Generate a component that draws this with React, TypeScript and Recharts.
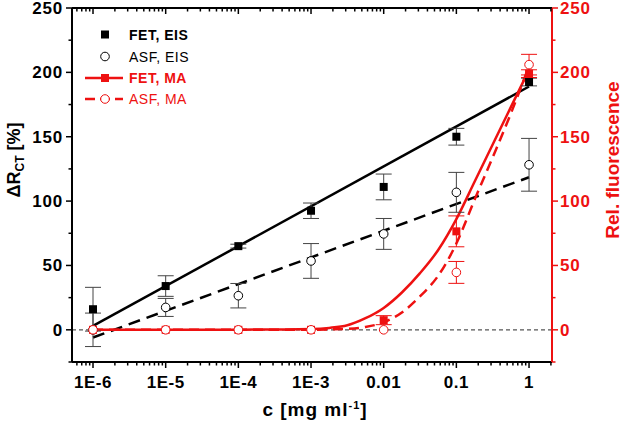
import React from 'react';
import {
  ComposedChart,
  Line,
  Scatter,
  XAxis,
  YAxis,
  ErrorBar,
  ReferenceLine,
  Legend,
} from 'recharts';

const FONT = '"Liberation Sans", Arial, Helvetica, sans-serif';
const RED = '#ee1111';

// ---- data ----
const CONC = [1e-6, 1e-5, 1e-4, 1e-3, 1e-2, 1e-1, 1];
const FET_EIS = [16, 34, 65, 92.5, 111, 150, 192.5];
const FET_EIS_ERR = [17, 8, 1.5, 6, 10, 6.5, 3];
const ASF_EIS = [0, 17.4, 26.5, 53.5, 74.5, 106.8, 128.2];
const ASF_EIS_ERR = [13, 7, 9.5, 13.5, 12, 15.5, 20.5];
const FET_MA = [0, 0, 0, 0, 7.5, 76.5, 199];
const FET_MA_ERR = [0, 0, 0, 0, 3.5, 12, 3];
const ASF_MA = [0, 0, 0, 0, 0, 44.6, 206];
const ASF_MA_ERR = [0, 0, 0, 0, 0, 8.5, 8];

const FIT_C = [1e-6, 1];
const FIT_FET_EIS = [3, 189];
const FIT_ASF_EIS = [-6, 118.5];

const CURVE_C = [1e-6, 1e-5, 1e-4, 1e-3, 0.00178, 0.00316, 0.00562, 0.01, 0.0178, 0.0316, 0.0562, 0.1, 0.178, 0.316, 0.562, 1];
const CURVE_FET_Y = [0, 0, 0.1, 0.7, 1.5, 3.5, 9, 17, 29, 44, 62, 86, 115, 144, 173, 202];
const CURVE_ASF_Y = [0, 0, 0, 0.1, 0.3, 0.7, 2.2, 5.8, 13.5, 26, 42, 67, 101, 134, 168, 205];

const MAJOR_X = [1e-6, 1e-5, 1e-4, 1e-3, 1e-2, 1e-1, 1];
const MAJOR_X_LABELS = ['1E-6', '1E-5', '1E-4', '1E-3', '0.01', '0.1', '1'];
const X_DOMAIN = [5.14e-7, 2.07];
const Y_TICKS = [-25, 0, 25, 50, 75, 100, 125, 150, 175, 200, 225, 250];
const Y_LABELS = ['0', '50', '100', '150', '200', '250'];
const Y_DOMAIN = [-25, 250];
const LEGEND_LABELS = ['FET, EIS', 'ASF, EIS', 'FET, MA', 'ASF, MA'];

// ---- derived tables ----
const toPoints = (ys: number[], errs: number[]) =>
  CONC.map((c, i) => ({ c, y: ys[i], err: errs[i] }));
const fetEis = toPoints(FET_EIS, FET_EIS_ERR);
const asfEis = toPoints(ASF_EIS, ASF_EIS_ERR);
const fetMa = toPoints(FET_MA, FET_MA_ERR);
const asfMa = toPoints(ASF_MA, ASF_MA_ERR);
const fitFet = FIT_C.map((c, i) => ({ c, y: FIT_FET_EIS[i] }));
const fitAsf = FIT_C.map((c, i) => ({ c, y: FIT_ASF_EIS[i] }));
const curveFet = CURVE_C.map((c, i) => ({ c, y: CURVE_FET_Y[i] }));
const curveAsf = CURVE_C.map((c, i) => ({ c, y: CURVE_ASF_Y[i] }));

const minorX: number[] = [];
[1e-7, ...MAJOR_X].forEach((d) => {
  for (let k = 2; k <= 9; k++) {
    const v = d * k;
    if (v >= X_DOMAIN[0] && v <= X_DOMAIN[1]) minorX.push(v);
  }
});
const X_TICKS = [...MAJOR_X, ...minorX].sort((a, b) => a - b);

const majorIndex = (v: number) =>
  MAJOR_X.findIndex((m) => Math.abs(Math.log10(m) - Math.log10(v)) < 1e-6);

// ---- tick renderers ----
const XTickBottom = (props: any) => {
  const { x, y, payload } = props;
  const i = majorIndex(payload.value);
  const major = i >= 0;
  return (
    <g>
      <line x1={x} x2={x} y1={y} y2={y + (major ? 6 : 3.5)} stroke="#000" strokeWidth={1.5} />
      {major && (
        <text x={x} y={y + 26} textAnchor="middle" fontFamily={FONT} fontWeight="bold" fontSize={17} letterSpacing={0.5} fill="#000">
          {MAJOR_X_LABELS[i]}
        </text>
      )}
    </g>
  );
};

const XTickTop = (props: any) => {
  const { x, y, payload } = props;
  const major = majorIndex(payload.value) >= 0;
  return <line x1={x} x2={x} y1={y} y2={y + (major ? 6 : 3.5)} stroke="#000" strokeWidth={1.5} />;
};

const yLabelFor = (v: number) => {
  if (v < 0 || v % 50 !== 0) return null;
  return Y_LABELS[v / 50];
};

const YTickLeft = (props: any) => {
  const { x, y, payload } = props;
  const lbl = yLabelFor(payload.value);
  return (
    <g>
      <line x1={x - (lbl ? 6 : 3.5)} x2={x} y1={y} y2={y} stroke="#000" strokeWidth={1.5} />
      {lbl && (
        <text x={x - 9} y={y + 6} textAnchor="end" fontFamily={FONT} fontWeight="bold" fontSize={17} letterSpacing={0.8} fill="#000">
          {lbl}
        </text>
      )}
    </g>
  );
};

const YTickRight = (props: any) => {
  const { x, y, payload } = props;
  const lbl = yLabelFor(payload.value);
  return (
    <g>
      <line x1={x} x2={x + (lbl ? 6 : 3.5)} y1={y} y2={y} stroke={RED} strokeWidth={1.5} />
      {lbl && (
        <text x={x + 8} y={y + 6} textAnchor="start" fontFamily={FONT} fontWeight="bold" fontSize={17} letterSpacing={0.8} fill={RED}>
          {lbl}
        </text>
      )}
    </g>
  );
};

// ---- titles ----
const XTitle = (props: any) => {
  const vb = props.viewBox || { x: 72, y: 362, width: 480 };
  const cx = vb.x + vb.width / 2 + 3;
  return (
    <text x={cx} y={vb.y + 54} textAnchor="middle" fontFamily={FONT} fontWeight="bold" fontSize={19} letterSpacing={1} fill="#000">
      c [mg ml<tspan dy={-7} fontSize={11}>-1</tspan>
      <tspan dy={7}>]</tspan>
    </text>
  );
};

const YTitleLeft = (props: any) => {
  const vb = props.viewBox || { x: 10, y: 8, width: 62, height: 354 };
  const x = vb.x + vb.width - 52;
  const y = vb.y + 152;
  return (
    <text x={x} y={y} transform={`rotate(-90, ${x}, ${y})`} textAnchor="middle" fontFamily={FONT} fontWeight="bold" fontSize={18} fill="#000">
      ΔR<tspan dy={4} fontSize={12}>CT</tspan>
      <tspan dy={-4}> [%]</tspan>
    </text>
  );
};

const YTitleRight = (props: any) => {
  const vb = props.viewBox || { x: 552, y: 8, height: 354 };
  const x = vb.x + 67;
  const y = vb.y + 152;
  return (
    <text x={x} y={y} transform={`rotate(-90, ${x}, ${y})`} textAnchor="middle" fontFamily={FONT} fontWeight="bold" fontSize={19} fill={RED}>
      Rel. fluorescence
    </text>
  );
};

// ---- markers ----
const squareShape = (color: string) => (props: any) => (
  <rect x={props.cx - 4} y={props.cy - 4} width={8} height={8} fill={color} />
);
const circleShape = (color: string) => (props: any) => (
  <circle cx={props.cx} cy={props.cy} r={4.3} fill="#fff" stroke={color} strokeWidth={1} />
);

// ---- legend ----
const LegendBox = () => {
  const rows = [14.5, 36.5, 58, 79];
  const textProps = { fontFamily: FONT, fontSize: 14, letterSpacing: 0.5 } as any;
  return (
    <svg width={160} height={92} style={{ overflow: 'visible' }}>
      <rect x={21} y={rows[0] - 4} width={8} height={8} fill="#000" />
      <text x={49} y={rows[0] + 5} {...textProps} fontWeight="bold" fill="#000">{LEGEND_LABELS[0]}</text>
      <circle cx={25} cy={rows[1]} r={4.3} fill="#fff" stroke="#000" strokeWidth={1} />
      <text x={49} y={rows[1] + 5} {...textProps} fill="#000">{LEGEND_LABELS[1]}</text>
      <line x1={5} x2={43} y1={rows[2]} y2={rows[2]} stroke={RED} strokeWidth={2.5} />
      <rect x={21} y={rows[2] - 4} width={8} height={8} fill={RED} />
      <text x={49} y={rows[2] + 5} {...textProps} fontWeight="bold" fill={RED}>{LEGEND_LABELS[2]}</text>
      <line x1={5} x2={43} y1={rows[3]} y2={rows[3]} stroke={RED} strokeWidth={2.5} strokeDasharray="10 5" />
      <circle cx={25} cy={rows[3]} r={4.3} fill="#fff" stroke={RED} strokeWidth={1} />
      <text x={49} y={rows[3] + 5} {...textProps} fill={RED}>{LEGEND_LABELS[3]}</text>
    </svg>
  );
};

export default function App() {
  return (
    <div style={{ position: 'absolute', left: 0, top: 0, width: 622, height: 423, background: '#fff' }}>
      <ComposedChart width={622} height={423} margin={{ top: 0, right: 10, bottom: 11, left: 10 }}>
        <XAxis
          xAxisId="bottom"
          dataKey="c"
          type="number"
          scale="log"
          domain={X_DOMAIN}
          allowDataOverflow
          ticks={X_TICKS}
          interval={0}
          height={50}
          tickSize={0}
          tickMargin={0}
          tickLine={false}
          tick={<XTickBottom />}
          axisLine={{ stroke: '#000', strokeWidth: 2 }}
          label={{ content: (p: any) => <XTitle {...p} /> }}
        />
        <XAxis
          xAxisId="top"
          orientation="top"
          dataKey="c"
          type="number"
          scale="log"
          domain={X_DOMAIN}
          allowDataOverflow
          ticks={X_TICKS}
          interval={0}
          height={8}
          tickSize={0}
          tickMargin={0}
          tickLine={false}
          tick={<XTickTop />}
          axisLine={{ stroke: '#000', strokeWidth: 2 }}
        />
        <YAxis
          yAxisId="left"
          type="number"
          domain={Y_DOMAIN}
          allowDataOverflow
          ticks={Y_TICKS}
          interval={0}
          width={62}
          tickSize={0}
          tickMargin={0}
          tickLine={false}
          tick={<YTickLeft />}
          axisLine={{ stroke: '#000', strokeWidth: 2 }}
          label={{ content: (p: any) => <YTitleLeft {...p} /> }}
        />
        <YAxis
          yAxisId="right"
          orientation="right"
          type="number"
          domain={Y_DOMAIN}
          allowDataOverflow
          ticks={Y_TICKS}
          interval={0}
          width={60}
          tickSize={0}
          tickMargin={0}
          tickLine={false}
          tick={<YTickRight />}
          axisLine={{ stroke: RED, strokeWidth: 2 }}
          label={{ content: (p: any) => <YTitleRight {...p} /> }}
        />
        <Legend
          layout="vertical"
          align="center"
          verticalAlign="middle"
          wrapperStyle={{ position: 'absolute', left: 80, top: 20, width: 160, height: 92 }}
          content={() => <LegendBox />}
        />
        <ReferenceLine xAxisId="bottom" yAxisId="left" y={0} stroke="#555" strokeWidth={1.2} strokeDasharray="4 3" />
        <Line xAxisId="bottom" yAxisId="left" data={fitFet} dataKey="y" type="linear" stroke="#000" strokeWidth={2.5} dot={false} isAnimationActive={false} />
        <Line xAxisId="bottom" yAxisId="left" data={fitAsf} dataKey="y" type="linear" stroke="#000" strokeWidth={2.5} strokeDasharray="12 7" dot={false} isAnimationActive={false} />
        <Line xAxisId="bottom" yAxisId="right" data={curveFet} dataKey="y" type="monotone" stroke={RED} strokeWidth={2.5} dot={false} isAnimationActive={false} />
        <Line xAxisId="bottom" yAxisId="right" data={curveAsf} dataKey="y" type="monotone" stroke={RED} strokeWidth={2.5} strokeDasharray="10 6" dot={false} isAnimationActive={false} />
        <Scatter xAxisId="bottom" yAxisId="left" data={fetEis} dataKey="y" shape={squareShape('#000')} isAnimationActive={false}>
          <ErrorBar dataKey="err" direction="y" width={8} stroke="#444" strokeWidth={1} />
        </Scatter>
        <Scatter xAxisId="bottom" yAxisId="left" data={asfEis} dataKey="y" shape={circleShape('#000')} isAnimationActive={false}>
          <ErrorBar dataKey="err" direction="y" width={8} stroke="#444" strokeWidth={1} />
        </Scatter>
        <Scatter xAxisId="bottom" yAxisId="right" data={fetMa} dataKey="y" shape={squareShape(RED)} isAnimationActive={false}>
          <ErrorBar dataKey="err" direction="y" width={8} stroke={RED} strokeWidth={1} />
        </Scatter>
        <Scatter xAxisId="bottom" yAxisId="right" data={asfMa} dataKey="y" shape={circleShape(RED)} isAnimationActive={false}>
          <ErrorBar dataKey="err" direction="y" width={8} stroke={RED} strokeWidth={1} />
        </Scatter>
      </ComposedChart>
    </div>
  );
}
